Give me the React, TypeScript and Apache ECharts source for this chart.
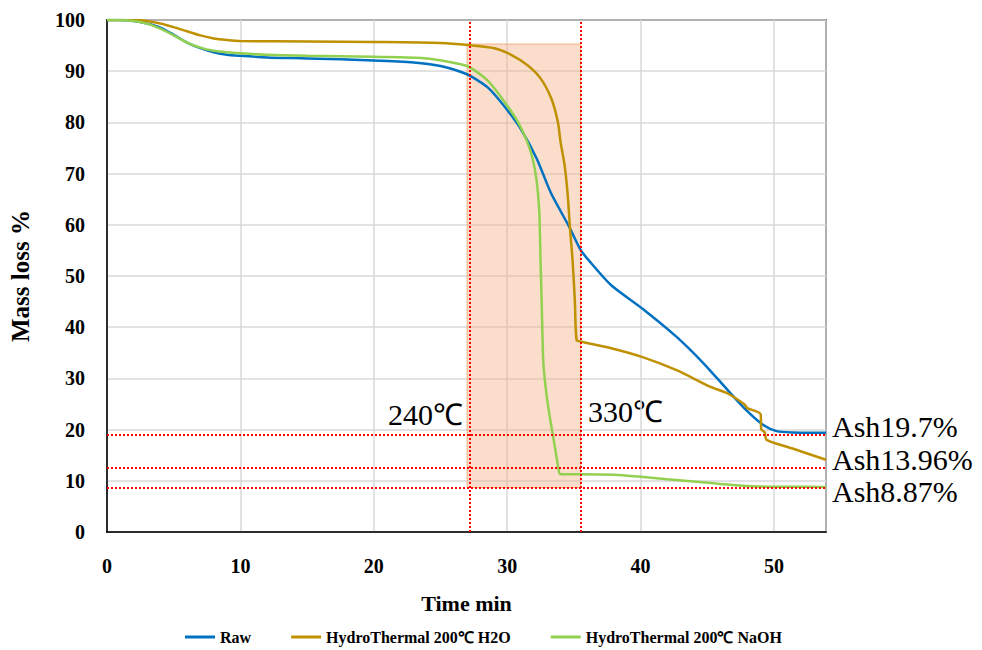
import React, { useEffect, useRef } from "react";
import * as echarts from "echarts";

const seriesNames = ["Raw", "HydroThermal 200℃ H2O", "HydroThermal 200℃ NaOH"];
const seriesColors = ["#0070C0", "#BF9000", "#92D050"];

const rawT = [0, 1, 2, 3, 4, 5, 6, 7, 8, 9, 10, 12, 15, 20, 23, 25, 26.6, 27.3, 28.6, 29.8, 31.0, 32.2, 33.3, 34.65, 35.5, 36.3, 37.8, 40.1, 42.7, 44.7, 46.5, 48, 49.2, 50.2, 51.4, 53.9];
const rawV = [100, 100, 99.8, 99.3, 98.5, 97.1, 95.6, 94.5, 93.7, 93.2, 93.0, 92.7, 92.5, 92.1, 91.7, 91.0, 89.8, 89.0, 86.7, 83.1, 78.8, 73.0, 66.1, 59.6, 55.1, 52.5, 48.2, 43.7, 38.1, 33.0, 27.8, 23.6, 20.9, 19.7, 19.45, 19.4];

const h2oT = [0, 2, 3, 4, 5, 6, 7, 8, 9, 10, 15, 20, 25, 27.1, 29.05, 30.3, 31.5, 32.5, 33.3, 33.8, 34.0, 34.3, 34.53, 34.7, 34.9, 35.07, 35.2, 35.5, 37.8, 40.1, 42.7, 45.2, 46.5, 47.8, 48, 49, 49.05, 49.3, 49.45, 51.4, 53.9];
const h2oV = [100, 100, 99.8, 99.3, 98.6, 97.8, 97.0, 96.4, 96.1, 95.9, 95.8, 95.7, 95.5, 95.1, 94.5, 93.2, 91.2, 88.6, 84.7, 80.1, 76.2, 71.7, 66.1, 59.6, 53.1, 45.3, 37.5, 37.2, 35.9, 34.2, 31.6, 28.4, 27.1, 24.9, 24.2, 23.0, 20.0, 19.5, 18.0, 16.3, 14.1];

const naohT = [0, 1, 2, 3, 4, 5, 6, 7, 8, 9, 10, 12, 15, 20, 24, 26.6, 27.3, 28.6, 29.8, 30.8, 31.5, 31.9, 32.2, 32.4, 32.5, 32.6, 32.7, 32.85, 33.1, 33.5, 33.9, 34.0, 35.5, 38, 40, 42, 45.5, 48, 50.4, 53.9];
const naohV = [100, 100, 99.8, 99.3, 98.3, 97.0, 95.6, 94.6, 94.0, 93.7, 93.5, 93.2, 93.0, 92.8, 92.5, 91.3, 90.6, 88.0, 84.0, 80.1, 76.2, 73.0, 68.75, 62.9, 53.1, 43.4, 33.6, 29.0, 24.0, 17.8, 11.6, 11.3, 11.3, 11.2, 10.8, 10.3, 9.5, 9.0, 8.85, 8.8];

const xTicks = [0, 10, 20, 30, 40, 50];
const tempLines = [27.2, 35.5];
const tempLabels = ["240℃", "330℃"];
const ashLines = [18.9, 12.6, 8.6];
const ashLabels = ["Ash19.7%", "Ash13.96%", "Ash8.87%"];
const shadeX = [27.0, 35.5];
const shadeY = [95.3, 8.7];

const zip = (t: number[], v: number[]) => t.map((x, i) => [x, v[i]]);

export default function App() {
  const ref = useRef<HTMLDivElement>(null);
  useEffect(() => {
    if (!ref.current) return;
    const chart = echarts.init(ref.current, null, { renderer: "svg" });
    const font = "'Liberation Serif', 'Times New Roman', serif";
    const datas = [zip(rawT, rawV), zip(h2oT, h2oV), zip(naohT, naohV)];
    const lineSeries: any[] = datas.map((d, i) => ({
      name: seriesNames[i],
      type: "line",
      data: d,
      showSymbol: false,
      symbol: "none",
      smooth: 0.25,
      lineStyle: { color: seriesColors[i], width: 2.5 },
      itemStyle: { color: seriesColors[i] },
      z: 2,
    }));
    lineSeries.push({
      name: "annot",
      type: "line",
      data: [],
      z: 5,
      markArea: {
        silent: true,
        itemStyle: {
          color: "rgba(244,177,131,0.42)",
          borderColor: "#F4B183",
          borderWidth: 1,
        },
        data: [[{ xAxis: shadeX[0], yAxis: shadeY[0] }, { xAxis: shadeX[1], yAxis: shadeY[1] }]],
      },
      markLine: {
        silent: true,
        symbol: "none",
        label: { show: false },
        lineStyle: { color: "#FF0000", type: "dotted", width: 2 },
        data: [
          ...tempLines.map((x) => ({ xAxis: x })),
          ...ashLines.map((y) => ({ yAxis: y })),
        ],
      },
    });
    const grid = { left: 104, right: 156, top: 20, bottom: 118 };
    chart.setOption({
      animation: false,
      backgroundColor: "#ffffff",
      grid: { ...grid, show: true, borderColor: "#000", borderWidth: 1.5 },
      legend: {
        data: seriesNames,
        top: 624,
        left: 180,
        itemWidth: 30,
        itemHeight: 3,
        itemGap: 40,
        icon: "rect",
        textStyle: { fontFamily: font, fontWeight: "bold", fontSize: 16, color: "#000" },
      },
      xAxis: {
        type: "value",
        min: 0,
        max: 53.9,
        interval: 10,
        name: "Time min",
        nameLocation: "middle",
        nameGap: 60,
        nameTextStyle: { fontFamily: font, fontWeight: "bold", fontSize: 22, color: "#000" },
        axisLine: { lineStyle: { color: "#000", width: 1.5 } },
        axisTick: { show: false },
        splitLine: { show: true, lineStyle: { color: "#D9D9D9", width: 1.5 } },
        axisLabel: {
          margin: 24,
          fontFamily: font,
          fontWeight: "bold",
          fontSize: 20,
          color: "#000",
          showMaxLabel: false,
          formatter: (v: number) => (xTicks.includes(v) ? String(v) : ""),
        },
      },
      yAxis: {
        type: "value",
        min: 0,
        max: 100,
        interval: 10,
        name: "Mass loss %",
        nameLocation: "middle",
        nameGap: 74,
        nameRotate: 90,
        nameTextStyle: { fontFamily: font, fontWeight: "bold", fontSize: 25, color: "#000" },
        axisLine: { show: true, lineStyle: { color: "#000", width: 1.5 } },
        axisTick: { show: false },
        splitLine: { show: true, lineStyle: { color: "#D9D9D9", width: 1.5 } },
        axisLabel: { margin: 22, fontFamily: font, fontWeight: "bold", fontSize: 20, color: "#000" },
      },
      series: lineSeries,
      graphic: [
        { type: "text", x: 388, y: 414, style: { text: tempLabels[0], font: `30px ${font}`, fill: "#000", verticalAlign: "middle" } },
        { type: "text", x: 588, y: 411, style: { text: tempLabels[1], font: `30px ${font}`, fill: "#000", verticalAlign: "middle" } },
        { type: "text", x: 832, y: 426, style: { text: ashLabels[0], font: `30px ${font}`, fill: "#000", verticalAlign: "middle" } },
        { type: "text", x: 832, y: 459, style: { text: ashLabels[1], font: `30px ${font}`, fill: "#000", verticalAlign: "middle" } },
        { type: "text", x: 832, y: 491, style: { text: ashLabels[2], font: `30px ${font}`, fill: "#000", verticalAlign: "middle" } },
      ],
    });
    return () => chart.dispose();
  }, []);
  return <div ref={ref} style={{ width: 982, height: 650, position: "absolute", left: 0, top: 0 }} />;
}
